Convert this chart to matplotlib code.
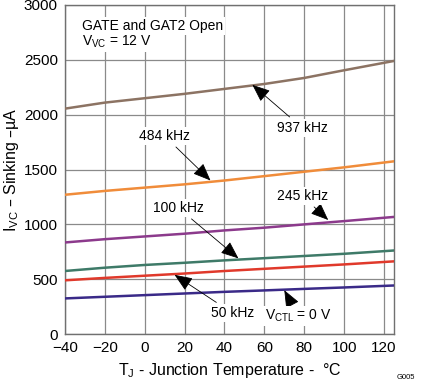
import numpy as np
from matplotlib import pyplot as plt

plt.rcParams['font.family'] = ['Liberation Sans', 'DejaVu Sans']

temps = [-40, -20, 0, 20, 40, 60, 80, 100, 125]
i_937 = [2055, 2110, 2150, 2190, 2235, 2280, 2335, 2405, 2490]
i_484 = [1270, 1305, 1335, 1365, 1400, 1440, 1480, 1520, 1575]
i_245 = [835, 865, 890, 915, 945, 970, 1000, 1030, 1068]
i_100 = [575, 605, 630, 650, 672, 692, 712, 732, 762]
i_50 = [490, 512, 532, 552, 575, 595, 615, 635, 663]
i_0v = [325, 340, 355, 370, 385, 398, 412, 425, 443]

series = [
    (i_937, '#8c7363'),
    (i_484, '#f08c3a'),
    (i_245, '#8c3a8c'),
    (i_100, '#3e7a68'),
    (i_50, '#e0392b'),
    (i_0v, '#3a2a88'),
]

# label text, text position, arrow tip
notes = [
    ('937 kHz', (79, 1880), (54, 2272)),
    ('484 kHz', (10, 1806), (33, 1400)),
    ('245 kHz', (79, 1259), (92, 1040)),
    ('100 kHz', (17, 1149), (47, 690)),
    ('50 kHz', (44, 192), (15, 540)),
    ('$\\mathregular{V_{CTL}}$ = 0 V', (77, 164), (70, 400)),
]


def main():
    fig = plt.figure(figsize=(4.21, 3.84), dpi=100)
    ax = fig.add_axes([0.154, 0.130, 0.782, 0.857])

    for vals, col in series:
        ax.plot(temps, vals, color=col, lw=1.8, zorder=3)

    for txt, xy_text, xy in notes:
        ax.annotate(txt, xy=xy, xytext=xy_text, fontsize=10, ha='center', va='center',
                    bbox=dict(boxstyle='square,pad=0.15', fc='white', ec='none'),
                    arrowprops=dict(arrowstyle='-|>,head_length=1.1,head_width=0.45',
                                    color='black', lw=0.6, shrinkA=2, shrinkB=0),
                    zorder=4)

    ax.text(-31.5, 2809, 'GATE and GAT2 Open', fontsize=10, va='center',
            bbox=dict(boxstyle='square,pad=0.15', fc='white', ec='none'), zorder=4)
    ax.text(-31.5, 2663, '$\\mathregular{V_{VC}}$ = 12 V', fontsize=10, va='center',
            bbox=dict(boxstyle='square,pad=0.15', fc='white', ec='none'), zorder=4)

    ax.set_xlim(-40, 125)
    ax.set_ylim(0, 3000)
    ax.set_xticks([-40, -20, 0, 20, 40, 60, 80, 100, 120])
    ax.set_xticklabels(['\u221240', '\u221220', '0', '20', '40', '60', '80', '100', '120'])
    ax.set_yticks(np.arange(0, 3001, 500))
    ax.tick_params(length=0, labelsize=11, pad=5)
    ax.grid(color='#8a8a8a', lw=0.9)
    for s in ax.spines.values():
        s.set_color('#707070')
        s.set_linewidth(1.0)

    ax.set_xlabel('$\\mathregular{T_J}$ - Junction Temperature -  \u00b0C', fontsize=11.5)
    ax.set_ylabel('$\\mathregular{I_{VC}}$ \u2013 Sinking \u2013\u00b5A', fontsize=11.5, labelpad=2)
    fig.text(0.985, 0.008, 'G005', fontsize=5.5, ha='right', va='bottom')

    fig.savefig('out.png', dpi=100)


if __name__ == '__main__':
    main()
